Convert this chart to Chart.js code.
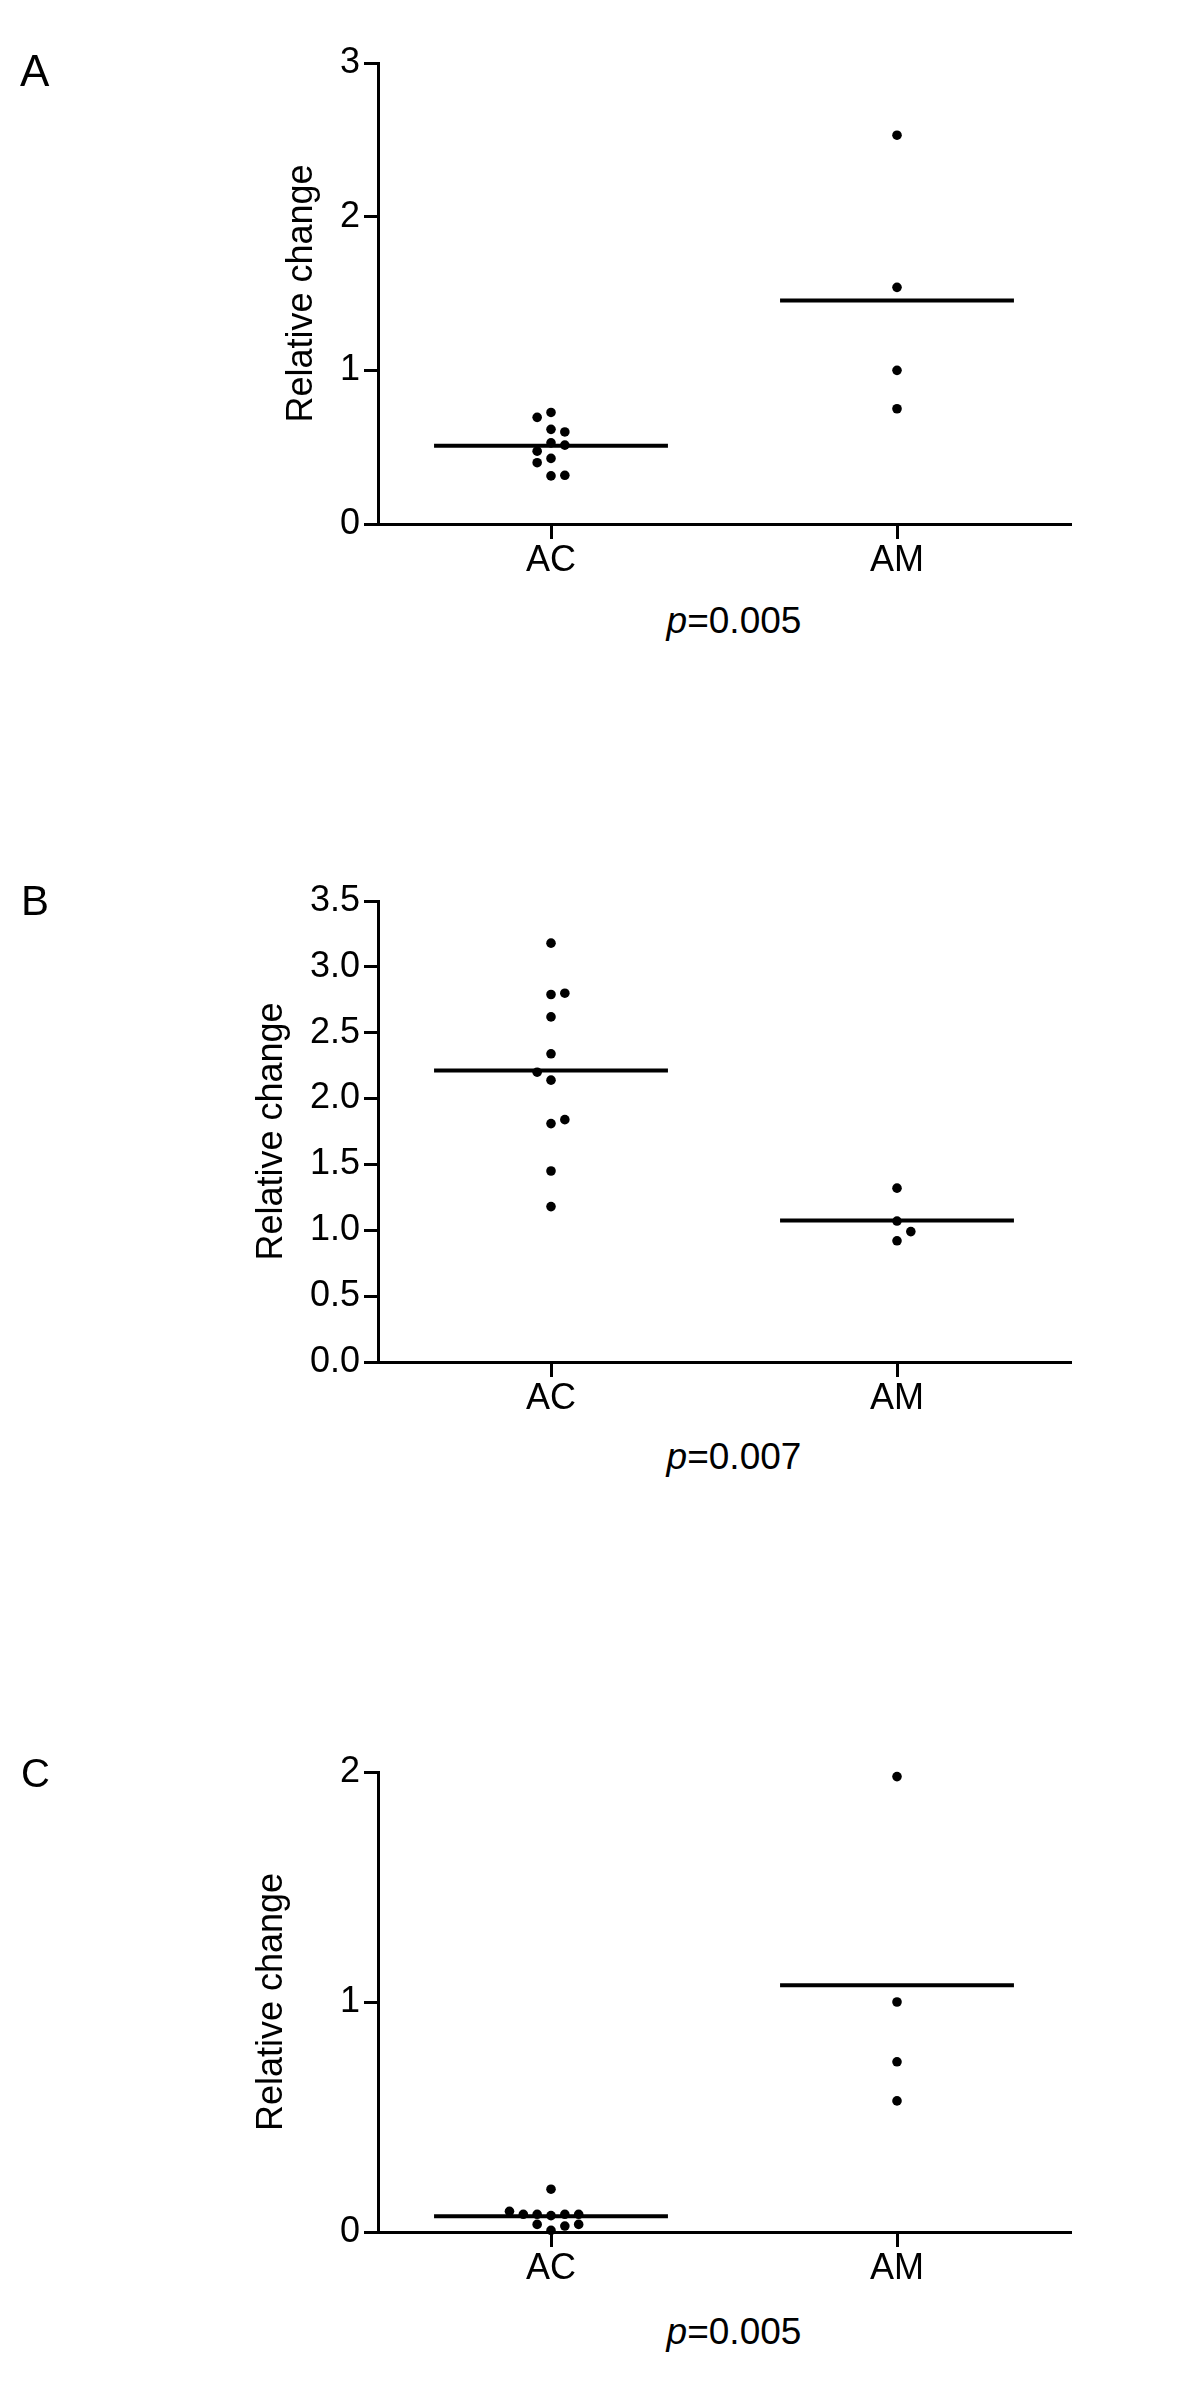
<!DOCTYPE html>
<html>
<head>
<meta charset="utf-8">
<script src="https://cdn.jsdelivr.net/npm/chart.js@4.4.0/dist/chart.umd.min.js"></script>
<style>
  body { margin: 0; background: #fff; width: 1200px; height: 2394px; position: relative;
         font-family: 'Liberation Sans', Arial, sans-serif; color: #000; overflow: hidden; }
  canvas { position: absolute; left: 0; }
  .tag { position: absolute; line-height: 1; z-index: 2; }
  .pval { position: absolute; left: 584px; width: 300px; text-align: center;
          font-size: 37px; line-height: 1; z-index: 2; }
</style>
</head>
<body>
<div class="tag" style="left:20px;top:49px;font-size:44px">A</div>
<div class="tag" style="left:21px;top:880px;font-size:42px">B</div>
<div class="tag" style="left:21px;top:1753px;font-size:40px">C</div>

<canvas id="chartA" width="1200" height="571" style="top:23px"></canvas>
<canvas id="chartB" width="1200" height="571" style="top:861px"></canvas>
<canvas id="chartC" width="1200" height="570" style="top:1732px"></canvas>

<div class="pval" style="top:602px"><i>p</i>=0.005</div>
<div class="pval" style="top:1438px"><i>p</i>=0.007</div>
<div class="pval" style="top:2313px"><i>p</i>=0.005</div>

<script>
const groups = ['AC', 'AM'];

// panel A
const aAC = [0.726, 0.694, 0.616, 0.599, 0.528, 0.513, 0.474, 0.427, 0.399, 0.317, 0.313];
const aACslot = [0, -1, 0, 1, 0, 1, -1, 0, -1, 1, 0];
const aAM = [2.53, 1.54, 1.00, 0.75];
const aAMslot = [0, 0, 0, 0];
const aYTicks = [0, 1, 2, 3];

// panel B
const bAC = [3.18, 2.80, 2.79, 2.62, 2.34, 2.20, 2.14, 1.84, 1.81, 1.45, 1.18];
const bACslot = [0, 1, 0, 0, 0, -1, 0, 1, 0, 0, 0];
const bAM = [1.32, 1.07, 0.99, 0.92];
const bAMslot = [0, 0, 1, 0];
const bYTicks = [0, 0.5, 1, 1.5, 2, 2.5, 3, 3.5];

// panel C
const cAC = [0.186, 0.090, 0.077, 0.077, 0.071, 0.077, 0.077, 0.033, 0.026, 0.033, 0.007];
const cACslot = [0, -3, -2, -1, 0, 1, 2, -1, 1, 2, 0];
const cAM = [1.98, 1.00, 0.74, 0.57];
const cAMslot = [0, 0, 0, 0];
const cYTicks = [0, 1, 2];

const FONT = "'Liberation Sans', Arial, sans-serif";
const SLOT = 0.04;   // horizontal spacing of dodged dots (x units)
const HALF = 0.338;  // half length of mean line

const mean = arr => arr.reduce((s, v) => s + v, 0) / arr.length;

function dots(vals, slots, g) {
  return vals.map((v, i) => ({ x: g + slots[i] * SLOT, y: v }));
}

function meanLine(vals, g) {
  const m = mean(vals);
  return [{ x: g - HALF, y: m }, { x: g + HALF, y: m }];
}

function dotSet(data) {
  return { data: data, pointRadius: 4.8, pointBackgroundColor: '#000', pointBorderWidth: 0,
           pointHoverRadius: 4.8, clip: false };
}

function lineSet(data) {
  return { data: data, showLine: true, borderColor: '#000', borderWidth: 4,
           pointRadius: 0, pointHoverRadius: 0, clip: false };
}

function makePanel(id, ac, acSlot, am, amSlot, yTicks, decimals, titlePad) {
  new Chart(document.getElementById(id), {
    type: 'scatter',
    data: {
      datasets: [
        lineSet(meanLine(ac, 0)),
        lineSet(meanLine(am, 1)),
        dotSet(dots(ac, acSlot, 0)),
        dotSet(dots(am, amSlot, 1))
      ]
    },
    options: {
      responsive: false,
      animation: false,
      devicePixelRatio: 1,
      layout: { padding: { top: 40, right: 130, bottom: 0, left: 0 } },
      plugins: { legend: { display: false }, tooltip: { enabled: false } },
      scales: {
        x: {
          type: 'linear', min: -0.5, max: 1.5,
          afterBuildTicks: s => { s.ticks = groups.map((g, i) => ({ value: i })); },
          afterFit: s => { s.height = 70; },
          ticks: { callback: v => groups[v], color: '#000', font: { size: 36, family: FONT },
                   padding: 0, maxRotation: 0, autoSkip: false },
          grid: { drawOnChartArea: false, drawTicks: true, tickLength: 15, tickWidth: 3,
                  tickColor: '#000', lineWidth: 3, color: '#000' },
          border: { display: true, color: '#000', width: 3 }
        },
        y: {
          min: 0, max: yTicks[yTicks.length - 1],
          afterBuildTicks: s => { s.ticks = yTicks.map(v => ({ value: v })); },
          afterFit: s => { s.width = 378; },
          ticks: { callback: v => v.toFixed(decimals), color: '#000',
                   font: { size: 36, family: FONT }, padding: 4 },
          grid: { drawOnChartArea: false, drawTicks: true, tickLength: 14, tickWidth: 3,
                  tickColor: '#000', lineWidth: 3, color: '#000' },
          border: { display: true, color: '#000', width: 3 },
          title: { display: true, text: 'Relative change', color: '#000',
                   font: { size: 36, family: FONT }, padding: { top: titlePad, bottom: 0 } }
        }
      }
    }
  });
}

makePanel('chartA', aAC, aACslot, aAM, aAMslot, aYTicks, 0, 280);
makePanel('chartB', bAC, bACslot, bAM, bAMslot, bYTicks, 1, 250);
makePanel('chartC', cAC, cACslot, cAM, cAMslot, cYTicks, 0, 250);
</script>
</body>
</html>
